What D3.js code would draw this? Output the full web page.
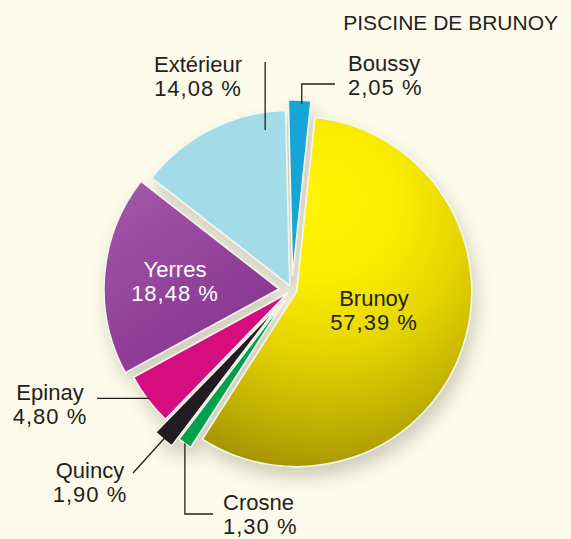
<!DOCTYPE html>
<html>
<head>
<meta charset="utf-8">
<script src="https://cdn.jsdelivr.net/npm/d3@7"></script>
<style>
  html, body { margin: 0; padding: 0; background: #fcfaea; }
  svg { display: block; }
  text { font-family: "Liberation Sans", Arial, sans-serif; fill: #231f20; }
</style>
</head>
<body>
<svg id="chart" width="571" height="539"></svg>
<script>
// ---- data ----
const title = "PISCINE DE BRUNOY";
const categories = ["Brunoy", "Crosne", "Quincy", "Epinay", "Yerres", "Extérieur", "Boussy"];
const values = [57.39, 1.30, 1.90, 4.80, 18.48, 14.08, 2.05];
const valueLabels = ["57,39 %", "1,30 %", "1,90 %", "4,80 %", "18,48 %", "14,08 %", "2,05 %"];
const colors = ["url(#gBrunoy)", "#00a04e", "#231f20", "#d6077f", "url(#gYerres)", "#a3dbe8", "#12a5d6"];

// ---- layout (presentation only) ----
const W = 571, H = 539;
const cx = 292, cy = 290, R = 175;
const startDeg = 6;
const explode = [5, 12, 22, 6, 13, 5, 15];
const labelPos = [
  {x: 374, y: 306, anchor: "middle", fill: "#231f20"},
  {x: 223, y: 510, anchor: "start", fill: "#231f20"},
  {x: 90,  y: 478, anchor: "middle", fill: "#231f20"},
  {x: 50,  y: 400, anchor: "middle", fill: "#231f20"},
  {x: 175, y: 277, anchor: "middle", fill: "#ffffff"},
  {x: 198, y: 72,  anchor: "middle", fill: "#231f20"},
  {x: 348, y: 71,  anchor: "start", fill: "#231f20"}
];
// leader: t = fraction across slice angle, rf = radius fraction, then extra points
const leaders = {
  1: {t: 0.5, rf: 1.0, pts: e => [[e[0], 514], [213, 514]]},
  2: {t: 0.5, rf: 0.99, pts: e => [[133, 473]]},
  3: {t: 0.5, rf: 0.99, pts: e => [[97, e[1]]]},
  5: {t: 0.85, rf: 0.9, pts: e => [[e[0], 62]]},
  6: {t: 0.6, rf: 0.98, pts: e => [[e[0], 84], [335, 84]]}
};

const svg = d3.select("#chart");
svg.append("rect").attr("width", W).attr("height", H).attr("fill", "#fcfaea");

const defs = svg.append("defs");
const gb = defs.append("radialGradient").attr("id", "gBrunoy")
  .attr("gradientUnits", "userSpaceOnUse")
  .attr("cx", 30).attr("cy", -70).attr("r", 250)
  .attr("fx", 25).attr("fy", -95);
[[0, "#fff500"], [0.3, "#fbee00"], [0.55, "#e6d600"], [0.78, "#c8b700"], [0.92, "#b4a300"], [1, "#a69500"]]
  .forEach(([o, c]) => gb.append("stop").attr("offset", o).attr("stop-color", c));
const gy = defs.append("linearGradient").attr("id", "gYerres")
  .attr("x1", 0).attr("y1", 0).attr("x2", 0.6).attr("y2", 1);
[[0, "#a459a8"], [1, "#873391"]]
  .forEach(([o, c]) => gy.append("stop").attr("offset", o).attr("stop-color", c));
const f = defs.append("filter").attr("id", "shadow")
  .attr("x", "-20%").attr("y", "-20%").attr("width", "150%").attr("height", "150%");
f.append("feDropShadow").attr("dx", 4).attr("dy", 10).attr("stdDeviation", 8)
  .attr("flood-color", "#6b6650").attr("flood-opacity", 0.3);

const rad = d => d * Math.PI / 180;
const pie = d3.pie().sort(null).value(d => d)
  .startAngle(rad(startDeg)).endAngle(rad(startDeg) + 2 * Math.PI);
const arcs = pie(values);
const arc = d3.arc().innerRadius(0).outerRadius(R);

function offsetOf(d, i) {
  const m = (d.startAngle + d.endAngle) / 2;
  return [Math.sin(m) * explode[i], -Math.cos(m) * explode[i]];
}

const g = svg.append("g").attr("transform", `translate(${cx},${cy})`)
  .attr("filter", "url(#shadow)");
g.selectAll("path").data(arcs).join("path")
  .attr("d", arc)
  .attr("transform", (d, i) => { const o = offsetOf(d, i); return `translate(${o[0]},${o[1]})`; })
  .attr("fill", (d, i) => colors[i])
  .attr("stroke", "#f4f6ee").attr("stroke-width", 1.5).attr("stroke-linejoin", "round");

// leaders
Object.entries(leaders).forEach(([k, L]) => {
  const i = +k, d = arcs[i], o = offsetOf(d, i);
  const a = d.startAngle + (d.endAngle - d.startAngle) * L.t;
  const e = [cx + o[0] + Math.sin(a) * R * L.rf, cy + o[1] - Math.cos(a) * R * L.rf];
  const pts = [e].concat(L.pts(e));
  svg.append("path").attr("d", d3.line()(pts))
    .attr("fill", "none").attr("stroke", "#231f20").attr("stroke-width", 1.3);
});

// labels
arcs.forEach((d, i) => {
  const p = labelPos[i];
  const t = svg.append("text").attr("text-anchor", p.anchor)
    .style("font-size", "22px").style("fill", p.fill);
  t.append("tspan").attr("x", p.x).attr("y", p.y).text(categories[i]);
  t.append("tspan").attr("x", p.x).attr("y", p.y + 23.5)
    .style("letter-spacing", "1px").text(valueLabels[i]);
});

svg.append("text").attr("x", 558).attr("y", 30).attr("text-anchor", "end")
  .style("font-size", "21px").text(title);
</script>
</body>
</html>
